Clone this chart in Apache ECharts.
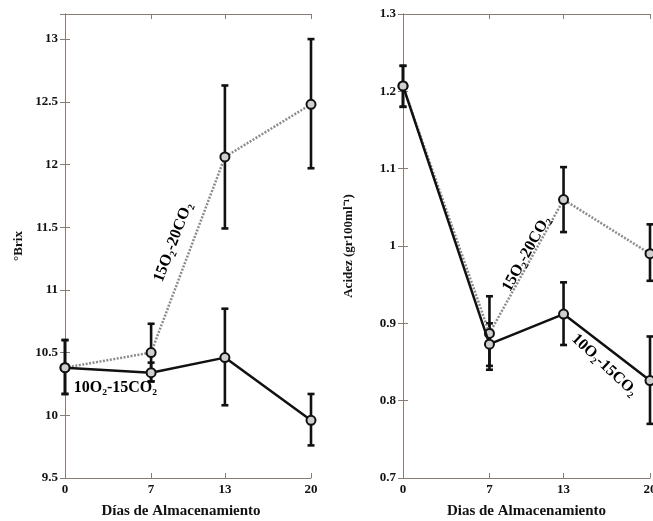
<!DOCTYPE html>
<html><head><meta charset="utf-8">
<script src="https://cdn.jsdelivr.net/npm/echarts@6/dist/echarts.min.js"></script>
<style>html,body{margin:0;padding:0;background:#fff}#c{width:653px;height:521px}</style>
</head><body><div id="c"></div>
<script>
// ---- data ----
const days = [0, 7, 13, 20];
const xTicks = [0, 7, 13, 20];
// Brix panel
const brixA = [10.38, 10.34, 10.46, 9.96];        // 10O2-15CO2 (solid)
const brixAlo = [10.17, 10.27, 10.08, 9.76];
const brixAhi = [10.60, 10.42, 10.85, 10.17];
const brixB = [10.38, 10.50, 12.06, 12.48];       // 15O2-20CO2 (dotted)
const brixBlo = [10.17, 10.27, 11.49, 11.97];
const brixBhi = [10.60, 10.73, 12.63, 13.00];
// Acidez panel
const acA = [1.207, 0.873, 0.912, 0.826];
const acAlo = [1.180, 0.840, 0.872, 0.770];
const acAhi = [1.233, 0.900, 0.953, 0.883];
const acB = [1.207, 0.887, 1.060, 0.990];
const acBlo = [1.180, 0.845, 1.018, 0.955];
const acBhi = [1.233, 0.935, 1.102, 1.028];
// annotation labels: [x, y] in data coordinates, rotation degrees
const labelA = '10O\u2082-15CO\u2082';
const labelB = '15O\u2082-20CO\u2082';
const annBrix = [{pos: [4.1, 10.22], rot: 0, text: labelA}, {pos: [8.8, 11.38], rot: 69, text: labelB}];
const annAc = [{pos: [16.3, 0.846], rot: -43, text: labelA}, {pos: [10.0, 0.99], rot: 61, text: labelB}];

const axisColor = '#8a7b74';
const font = 'Liberation Serif';

function xAxes(gi, name, shift) {
  return [
    {gridIndex: gi, type: 'value', min: 0, max: 20, position: 'bottom',
     name: name, nameLocation: 'middle', nameGap: 26,
     nameTextStyle: {fontFamily: font, fontWeight: 'bold', fontSize: 15, color: '#111', padding: [0, shift, 0, 0]},
     axisLine: {lineStyle: {color: axisColor, width: 1}},
     axisTick: {inside: true, length: 5, customValues: xTicks, lineStyle: {color: axisColor}},
     axisLabel: {customValues: xTicks, fontFamily: font, fontWeight: 'bold', fontSize: 13, color: '#111', margin: 5},
     splitLine: {show: false}},
    {gridIndex: gi, type: 'value', min: 0, max: 20, position: 'top',
     axisLine: {lineStyle: {color: axisColor, width: 1}},
     axisTick: {inside: true, length: 5, customValues: xTicks, lineStyle: {color: axisColor}},
     axisLabel: {show: false}, splitLine: {show: false}}
  ];
}
function yAxes(gi, min, max, interval, name, gap, fmt) {
  const common = {gridIndex: gi, type: 'value', min: min, max: max, interval: interval,
    axisLine: {show: true, lineStyle: {color: axisColor, width: 1}},
    axisTick: {inside: true, length: 5, lineStyle: {color: axisColor}},
    splitLine: {show: false}};
  return [
    Object.assign({}, common, {position: 'left', name: name, nameLocation: 'middle', nameGap: gap,
      nameTextStyle: {fontFamily: font, fontWeight: 'bold', fontSize: 13, color: '#111'},
      axisLabel: {fontFamily: font, fontWeight: 'bold', fontSize: 13, color: '#111', margin: 7, formatter: fmt}}),
    Object.assign({}, common, {position: 'right', axisLabel: {show: false}})
  ];
}
function errSeries(xi, yi, lo, hi) {
  return {type: 'custom', xAxisIndex: xi, yAxisIndex: yi, z: 3,
    data: days.map((d, i) => [d, lo[i], hi[i]]),
    renderItem: function (params, api) {
      const x = api.value(0);
      const p1 = api.coord([x, api.value(2)]);
      const p2 = api.coord([x, api.value(1)]);
      const w = 3.5;
      const st = {stroke: '#111', lineWidth: 2.6};
      return {type: 'group', children: [
        {type: 'line', shape: {x1: p1[0], y1: p1[1], x2: p2[0], y2: p2[1]}, style: st},
        {type: 'line', shape: {x1: p1[0] - w, y1: p1[1], x2: p1[0] + w, y2: p1[1]}, style: st},
        {type: 'line', shape: {x1: p2[0] - w, y1: p2[1], x2: p2[0] + w, y2: p2[1]}, style: st}
      ]};
    }};
}
function lineSeries(xi, yi, vals, dotted) {
  return {type: 'line', xAxisIndex: xi, yAxisIndex: yi, z: dotted ? 4 : 5,
    data: days.map((d, i) => [d, vals[i]]),
    symbol: 'circle', symbolSize: 9,
    itemStyle: {color: '#cfcfcf', borderColor: '#111', borderWidth: 2},
    lineStyle: dotted ? {color: '#8c8c8c', width: 2.5, type: [2, 1.5]} : {color: '#111', width: 2.5},
    animation: false};
}
function annSeries(xi, yi, anns) {
  return {type: 'scatter', xAxisIndex: xi, yAxisIndex: yi, z: 6, symbolSize: 1,
    itemStyle: {color: 'rgba(255,255,255,0)', opacity: 1}, silent: true,
    data: anns.map(a => ({value: a.pos, label: {show: true, position: 'inside', rotate: a.rot,
      formatter: a.text, fontFamily: font, fontWeight: 'bold', fontSize: 16, color: '#000', opacity: 1}}))};
}

const option = {
  backgroundColor: '#fff',
  animation: false,
  grid: [
    {left: 65, right: 342, top: 14, bottom: 43, outerBoundsMode: 'none', containLabel: false},
    {left: 403, right: 3, top: 14, bottom: 43, outerBoundsMode: 'none', containLabel: false}
  ],
  xAxis: [...xAxes(0, 'D\u00edas de Almacenamiento', 14), ...xAxes(1, 'Dias de Almacenamiento', 0)],
  yAxis: [
    ...yAxes(0, 9.5, 13.2, 0.5, '\u00b0Brix', 40, v => (v > 13.05 ? '' : String(+v.toFixed(1)))),
    ...yAxes(1, 0.7, 1.3, 0.1, 'Acidez (gr100ml\u207b\u00b9)', 48, v => String(+v.toFixed(1)))
  ],
  series: [
    errSeries(0, 0, brixBlo, brixBhi),
    errSeries(0, 0, brixAlo, brixAhi),
    lineSeries(0, 0, brixB, true),
    lineSeries(0, 0, brixA, false),
    annSeries(0, 0, annBrix),
    errSeries(2, 2, acBlo, acBhi),
    errSeries(2, 2, acAlo, acAhi),
    lineSeries(2, 2, acB, true),
    lineSeries(2, 2, acA, false),
    annSeries(2, 2, annAc)
  ]
};
const chart = echarts.init(document.getElementById('c'), null, {renderer: 'canvas'});
chart.setOption(option);
</script></body></html>
